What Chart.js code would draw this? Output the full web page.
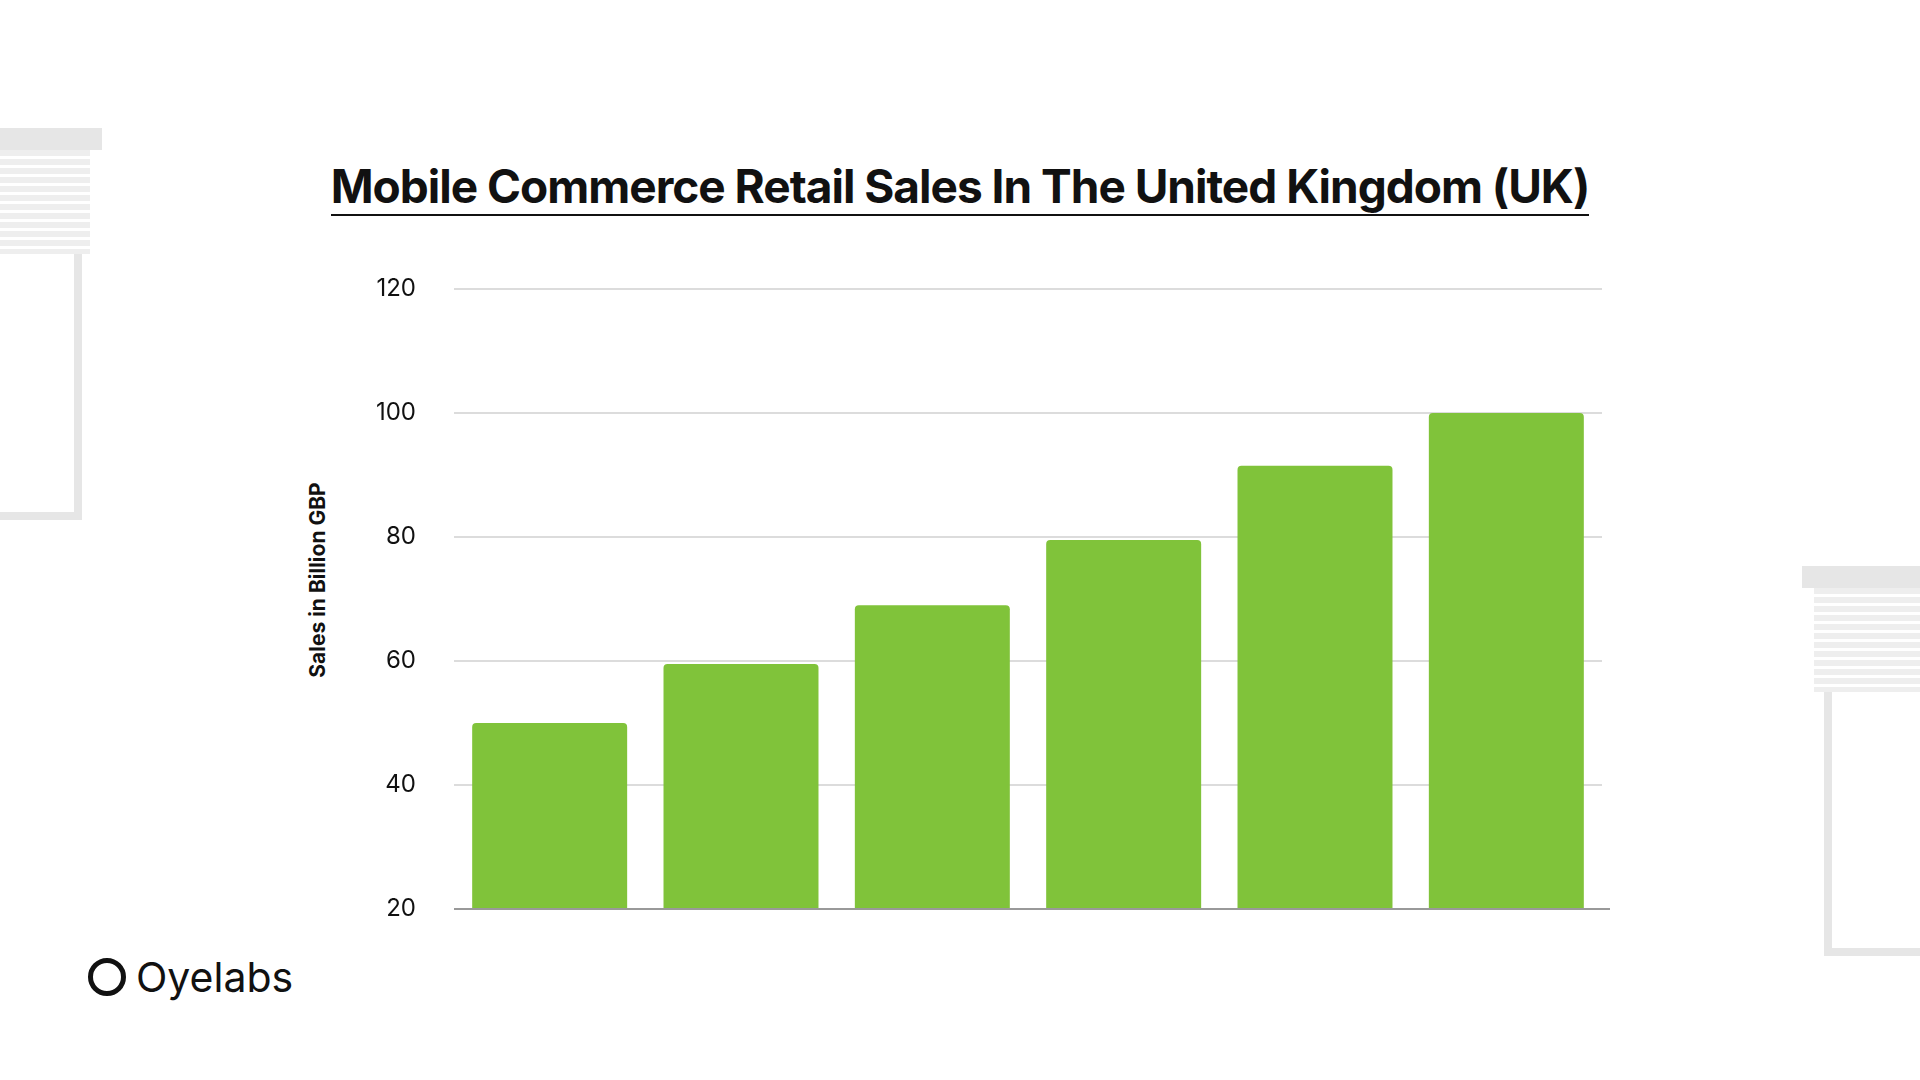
<!DOCTYPE html>
<html><head><meta charset="utf-8">
<script src="https://cdn.jsdelivr.net/npm/chart.js@4"></script>
<style>
body{margin:0;width:1920px;height:1080px;background:#fff;position:relative;overflow:hidden;font-family:Inter,"Open Sans",sans-serif}
#title{position:absolute;left:0;width:1920px;top:158px;text-align:center;font-size:46px;font-weight:700;letter-spacing:-1px;color:#111;}
#title span{border-bottom:2px solid #111;padding-bottom:0px}
#ytitle{position:absolute;left:317px;top:580px;transform:translate(-50%,-50%) rotate(-90deg);font-size:21px;font-weight:700;white-space:nowrap;color:#111}
#logo{position:absolute;left:88px;top:952px;font-size:41px;color:#111;display:flex;align-items:center;gap:10px}
.ring{width:38px;height:38px;border:5px solid #111;border-radius:50%;box-sizing:border-box}
.deco{position:absolute;background:#e6e6e6}
canvas{position:absolute;left:0;top:0}
</style></head><body>
<div class="deco" style="left:0;top:128px;width:102px;height:22px"></div>
<div class="deco" style="left:0;top:150px;width:90px;height:104px;background:repeating-linear-gradient(#eee 0 6px,#fff 6px 9px)"></div>
<div class="deco" style="left:74px;top:254px;width:8px;height:266px"></div>
<div class="deco" style="left:0;top:512px;width:82px;height:8px"></div>
<div class="deco" style="left:1802px;top:566px;width:118px;height:22px"></div>
<div class="deco" style="left:1814px;top:588px;width:106px;height:104px;background:repeating-linear-gradient(#eee 0 6px,#fff 6px 9px)"></div>
<div class="deco" style="left:1824px;top:692px;width:8px;height:264px"></div>
<div class="deco" style="left:1824px;top:948px;width:96px;height:8px"></div>
<div id="title"><span>Mobile Commerce Retail Sales In The United Kingdom (UK)</span></div>
<div id="ytitle">Sales in Billion GBP</div>
<div id="logo"><div class="ring"></div>Oyelabs</div>
<canvas id="c" width="1920" height="1080"></canvas>
<script>
const categories = ['2019', '2020', '2021', '2022', '2023', '2024'];
const sales = [50, 59.5, 69, 79.5, 91.5, 100];
const yTicks = [20, 40, 60, 80, 100, 120];

const baseline = {
    id: 'baseline',
    afterDatasetsDraw(chart){
        let a = chart.chartArea, ctx = chart.ctx;
        ctx.save();
        ctx.strokeStyle = '#999';
        ctx.lineWidth = 2;
        ctx.beginPath();
        ctx.moveTo(a.left, a.bottom);
        ctx.lineTo(a.right + 8, a.bottom);
        ctx.stroke();
        ctx.restore();
    }
};

new Chart(document.getElementById('c'), {
    type: 'bar',
    data: {
        labels: categories,
        datasets: [{
            data: sales,
            backgroundColor: '#80c33a',
            borderRadius: {topLeft: 4, topRight: 4},
            borderSkipped: 'bottom',
            categoryPercentage: 1,
            barPercentage: 0.81
        }]
    },
    options: {
        responsive: false,
        animation: false,
        layout: {padding: {left: 300, top: 289, right: 318, bottom: 171}},
        plugins: {legend: {display: false}, tooltip: {enabled: false}},
        scales: {
            x: {display: false},
            y: {
                min: yTicks[0], max: yTicks[yTicks.length - 1],
                afterFit: function(s){ s.width = 154; },
                afterBuildTicks: function(s){ s.ticks = yTicks.map(v => ({value: v})); },
                border: {display: false},
                grid: {color: '#dcdcdc', lineWidth: 2, drawTicks: false},
                ticks: {padding: 38, color: '#111', font: {family: 'Inter', size: 24}}
            }
        }
    },
    plugins: [baseline]
});
</script>
</body></html>
